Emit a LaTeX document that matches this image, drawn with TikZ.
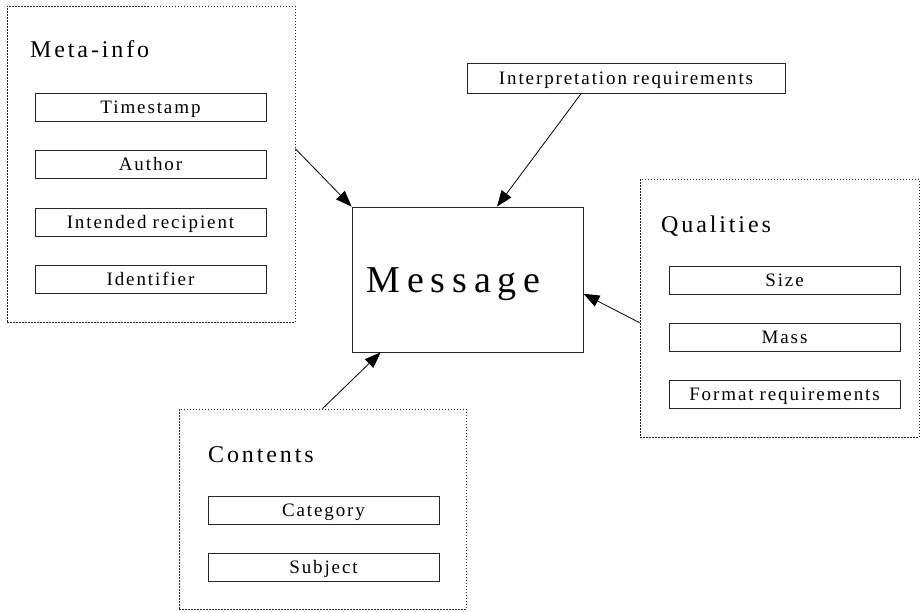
\documentclass[tikz,border=0pt]{standalone}
\usepackage{fontspec}
\setmainfont{Liberation Serif}
\newfontfamily\spc[LetterSpace=10]{Liberation Serif}
\newfontfamily\ttlspc[LetterSpace=12]{Liberation Serif}
\newfontfamily\bigspc[LetterSpace=18]{Liberation Serif}
\newcommand{\wsp}{\kern6pt\relax}
\usetikzlibrary{arrows.meta,calc}
\begin{document}
\begin{tikzpicture}[x=1pt,y=-1pt,
  groupbox/.style={draw=black!85, dash pattern=on 1.5pt off 1.5pt, line width=0.8pt, inner sep=0pt},
  itembox/.style={draw=black!85, line width=0.8pt, minimum width=231pt, minimum height=28pt, inner sep=0pt,
     text height=12.5pt, text depth=0pt, font=\spc\fontsize{19}{19}\selectfont},
  grouptitle/.style={anchor=base west, inner sep=0pt, font=\ttlspc\fontsize{24}{24}\selectfont},
  arr/.style={draw=black, line width=0.8pt, -{Triangle[length=16pt,width=12pt]}}]
\useasboundingbox (0,0) rectangle (920,611);
% Meta-info group
\node[groupbox, minimum width=288pt, minimum height=316pt] (meta) at (151,164) {};
\node[grouptitle] (metat) at (30,57) {Meta-info};
\node[itembox] (ts) at (150.5,107) {Timestamp};
\node[itembox] (au) at (150.5,164.5) {Author};
\node[itembox] (ir) at (150.5,222) {Intended\wsp recipient};
\node[itembox] (id) at (150.5,279.5) {Identifier};
% Message
\node[draw=black!85, line width=0.8pt, minimum width=231pt, minimum height=145pt, inner sep=0pt,
  text height=25pt, text depth=0pt,
  font=\bigspc\fontsize{38}{38}\selectfont] (msg) at (467.5,279.5) {Message\hspace*{28pt}};
% Interpretation requirements
\node[itembox, minimum width=318pt, minimum height=30pt] (interp) at (626,78) {Interpretation\wsp requirements};
% Qualities group
\node[groupbox, minimum width=279pt, minimum height=258pt] (qual) at (779.5,308) {};
\node[grouptitle] (qualt) at (661,232) {Qualities};
\node[itembox] (sz) at (784.5,280) {Size};
\node[itembox] (ms) at (784.5,337.5) {Mass};
\node[itembox] (fr) at (784.5,394.5) {Format\wsp requirements};
% Contents group
\node[groupbox, minimum width=287pt, minimum height=200pt] (cont) at (322.5,509) {};
\node[grouptitle] (contt) at (208,462) {Contents};
\node[itembox] (cat) at (323.5,510) {Category};
\node[itembox] (sub) at (323.5,567.5) {Subject};
% Connectors
\draw[arr] (meta.6) -- (msg.north west);
\draw[arr] (interp.199) -- (msg.68);
\draw[arr] (qual.186) -- (msg.-7.6);
\draw[arr] (cont.north) -- (msg.220);
\end{tikzpicture}
\end{document}
